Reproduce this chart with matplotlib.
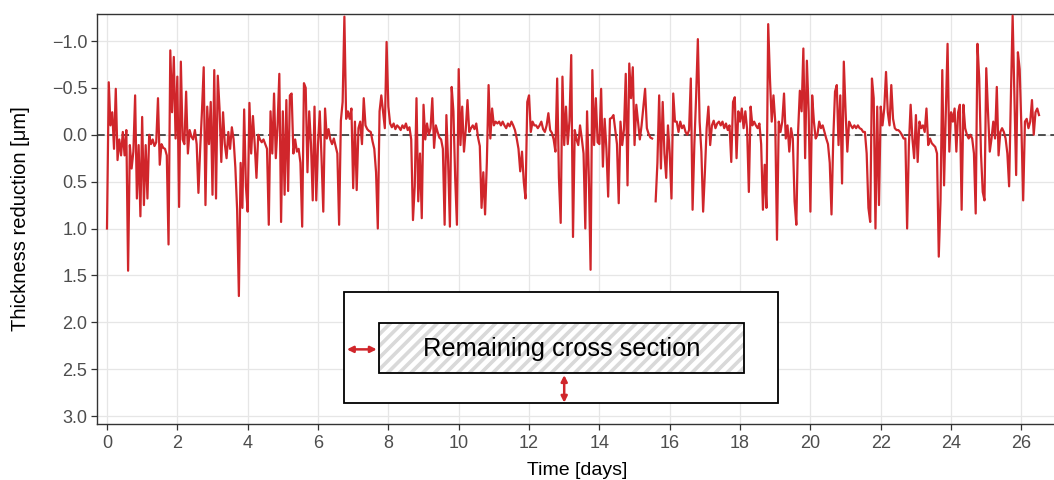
import numpy as np
import matplotlib
matplotlib.use('Agg')
import matplotlib.pyplot as plt
from matplotlib.patches import Rectangle
from matplotlib.lines import Line2D
from matplotlib.transforms import IdentityTransform

time_step = 0.05
thickness = [
    1.00, -0.56, -0.10, -0.24, 0.15, -0.49, 0.27, 0.05, 0.22, -0.03, 0.22, -0.05, 1.45, 0.11, 0.36, 0.18, -0.42, 0.68, 0.11, 0.87,
    -0.19, 0.75, 0.11, 0.68, 0.00, 0.10, 0.05, 0.12, 0.08, -0.39, 0.32, 0.10, 0.14, 0.15, 0.22, 1.17, -0.90, -0.24, -0.83, 0.04,
    -0.62, 0.77, -0.78, 0.05, 0.10, -0.46, 0.20, -0.05, 0.02, 0.05, -0.05, 0.10, 0.62, 0.15, -0.25, -0.72, 0.75, -0.30, 0.10, -0.35,
    0.64, -0.69, 0.68, -0.63, -0.28, 0.29, -0.24, 0.10, 0.25, -0.03, 0.15, -0.08, 0.05, 0.35, 0.80, 1.72, 0.30, 0.78, -0.27, 0.55,
    0.82, -0.34, 0.20, -0.20, 0.10, 0.46, 0.00, 0.05, 0.08, 0.05, 0.10, 0.15, 0.96, -0.25, 0.20, -0.44, 0.25, -0.10, -0.65, 0.93,
    -0.25, 0.64, -0.37, 0.60, -0.42, -0.44, 0.20, 0.05, 0.18, 0.15, 0.30, 0.98, -0.55, -0.50, 0.40, -0.25, 0.10, 0.70, -0.30, 0.70,
    0.10, -0.25, 0.25, 0.82, -0.28, 0.04, -0.06, 0.05, 0.10, 0.04, 0.12, 0.20, 0.96, -0.15, -0.35, -1.26, -0.17, -0.25, -0.17, -0.28,
    0.57, -0.14, 0.59, -0.07, -0.14, 0.10, -0.39, -0.10, -0.06, -0.04, -0.03, 0.07, 0.15, 0.40, 1.00, -0.25, -0.42, -0.25, -0.07, -0.99,
    -0.30, -0.12, -0.08, -0.12, -0.06, -0.10, -0.08, -0.05, -0.10, -0.07, -0.12, -0.05, -0.08, 0.05, 0.91, 0.55, -0.39, 0.71, 0.20, 0.89,
    -0.32, 0.05, -0.12, 0.00, -0.07, -0.39, 0.14, -0.10, -0.03, 0.03, 0.05, 0.15, 0.96, -0.21, 0.30, 0.98, -0.51, -0.25, 0.46, 0.96,
    -0.70, 0.11, -0.30, 0.18, -0.05, -0.37, -0.03, -0.07, -0.10, -0.06, -0.12, 0.03, 0.12, 0.78, 0.40, 0.85, 0.30, -0.53, 0.04, -0.28,
    -0.10, -0.14, -0.12, -0.14, -0.10, -0.14, -0.10, -0.07, -0.12, -0.09, -0.14, -0.10, -0.05, 0.04, 0.15, 0.39, 0.18, 0.50, 0.68, -0.35,
    -0.42, -0.03, -0.14, -0.10, -0.10, -0.07, -0.10, -0.14, -0.06, -0.03, -0.10, -0.23, -0.05, -0.02, 0.05, 0.18, -0.60, 0.46, 0.94, -0.62,
    0.11, -0.30, 0.10, -0.15, -0.85, 1.09, -0.05, 0.05, 0.11, -0.10, 0.04, 0.20, 1.00, -0.25, 0.45, 1.44, -0.69, 0.11, -0.39, 0.08,
    0.10, -0.49, 0.34, -0.17, 0.15, 0.66, -0.17, -0.18, -0.21, -0.05, 0.10, 0.73, -0.14, 0.11, -0.06, -0.65, 0.54, -0.76, -0.39, -0.72,
    0.11, -0.32, -0.14, 0.05, -0.10, -0.30, -0.49, -0.07, -0.01, 0.03, 0.04, np.nan, 0.71, 0.30, -0.42, 0.36, -0.35, 0.20, 0.46, -0.10,
    0.20, 0.68, -0.44, -0.14, -0.14, -0.03, -0.14, -0.07, -0.10, -0.03, 0.00, -0.05, -0.60, 0.80, 0.11, -0.40, -1.02, -0.14, 0.18, 0.82,
    0.40, -0.07, -0.30, 0.11, -0.10, -0.15, -0.07, -0.12, -0.14, -0.10, -0.14, -0.07, -0.12, -0.05, -0.10, 0.29, -0.35, -0.40, 0.25, -0.25,
    -0.14, -0.28, -0.07, -0.25, -0.06, 0.61, -0.30, -0.10, -0.14, -0.10, -0.07, -0.12, 0.10, 0.80, 0.32, 0.78, -1.18, -0.60, -0.14, -0.42,
    -0.14, 1.12, -0.14, -0.03, -0.14, -0.44, 0.04, -0.10, 0.18, -0.07, 0.04, 0.71, 0.96, -0.03, -0.47, -0.25, -0.92, 0.25, -0.79, -0.25,
    0.82, -0.42, -0.14, 0.04, 0.00, -0.14, -0.07, -0.10, -0.03, 0.04, 0.10, 0.30, 0.85, 0.04, -0.46, -0.53, 0.11, -0.42, 0.52, -0.78,
    -0.25, 0.18, -0.14, -0.10, -0.07, -0.10, -0.07, -0.10, -0.07, -0.06, -0.03, -0.03, 0.20, 0.78, 0.93, -0.60, -0.39, 1.00, -0.30, 0.75,
    -0.30, -0.10, -0.28, -0.67, -0.24, -0.10, -0.53, -0.17, -0.07, -0.05, -0.05, -0.03, 0.00, 0.04, 0.04, 1.00, 0.11, -0.32, 0.04, 0.25,
    -0.21, 0.29, -0.14, -0.07, -0.10, -0.03, -0.28, 0.11, 0.04, 0.09, 0.11, 0.13, 0.20, 1.30, 0.70, -0.69, 0.54, -0.24, -0.97, 0.18,
    -0.24, -0.14, -0.28, 0.18, -0.24, -0.32, 0.80, -0.32, -0.07, 0.00, 0.04, 0.00, 0.04, 0.20, 0.84, -0.97, -0.60, 0.20, 0.61, 0.70,
    -0.71, -0.24, 0.18, 0.04, -0.14, 0.04, -0.51, 0.22, -0.03, -0.07, -0.03, 0.04, 0.20, 0.55, -0.40, -1.27, -0.40, 0.43, -0.88, -0.70,
    -0.07, 0.70, -0.14, -0.17, -0.07, -0.14, -0.37, 0.00, -0.24, -0.28, -0.21,
]
x_ticks = list(range(0, 27, 2))
y_ticks = [-1.0, -0.5, 0.0, 0.5, 1.0, 1.5, 2.0, 2.5, 3.0]

red = '#D0262B'

plt.rcParams['font.family'] = ['Liberation Sans', 'DejaVu Sans']

fig = plt.figure(figsize=(10.54, 4.8), dpi=100)
ax = fig.add_axes([97/1054, 56/480, 961/1054, 410/480])

time = np.arange(len(thickness)) * time_step

ax.axhline(0, color='#222222', lw=1.1, ls=(0, (5, 3)), zorder=2)
ax.plot(time, thickness, color=red, lw=1.6, zorder=3)

ax.set_xlim(-0.284, 27.04)
ax.set_ylim(3.085, -1.288)

ax.set_xticks(x_ticks)
ax.set_yticks(y_ticks)
ax.set_yticklabels(['{:.1f}'.format(v).replace('-', '\u2212') for v in y_ticks])
ax.grid(color='#E6E6E6', lw=0.9)
ax.set_axisbelow(True)
for s in ax.spines.values():
    s.set_color('#333333')
    s.set_linewidth(1.0)
ax.tick_params(length=4, width=0.9, color='#333333', labelcolor='#4D4D4D',
               labelsize=13)
ax.tick_params(axis='x', pad=4)
ax.tick_params(axis='y', pad=3)

ax.set_ylabel('Thickness reduction [\u03bcm]', fontsize=14.5, labelpad=16)
ax.set_xlabel('Time [days]', fontsize=14, labelpad=7)

# inset sketch: remaining cross section
outer = Rectangle((6.74, 1.677), 12.34, 1.184, facecolor='white',
                  edgecolor='black', lw=1.3, zorder=4)
ax.add_patch(outer)
inner = Rectangle((7.74, 2.005), 10.37, 0.54, facecolor='white',
                  edgecolor='none', zorder=5)
ax.add_patch(inner)

x0, y0 = ax.transData.transform((7.74, 2.545))
x1, y1 = ax.transData.transform((18.11, 2.005))
h = y1 - y0
c = x0 - h
while c < x1:
    ln = Line2D([c, c + h], [y0, y1], transform=IdentityTransform(),
                color='#D9D9D9', lw=2.6, zorder=5.5)
    ax.add_artist(ln)
    ln.set_clip_path(inner)
    c += 11.7

ax.add_patch(Rectangle((7.74, 2.005), 10.37, 0.54, fill=False,
                       edgecolor='black', lw=1.3, zorder=6))
ax.text(12.93, 2.285, 'Remaining cross section', ha='center', va='center',
        fontsize=18.3, color='black', zorder=7)

arrow = dict(arrowstyle='<|-|>', color=red, lw=1.8, mutation_scale=9,
             shrinkA=0, shrinkB=0)
ax.annotate('', xy=(6.82, 2.289), xytext=(7.67, 2.289), arrowprops=arrow, zorder=7)
ax.annotate('', xy=(13.0, 2.563), xytext=(13.0, 2.858), arrowprops=arrow, zorder=7)

fig.savefig('out.png', dpi=100)
